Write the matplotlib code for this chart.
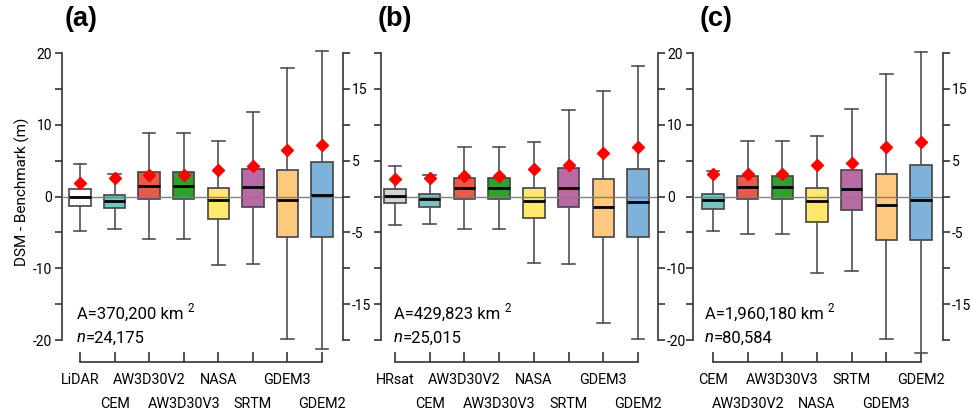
import matplotlib
matplotlib.use('Agg')
import matplotlib.pyplot as plt
from matplotlib import font_manager as fm
from matplotlib.ticker import FixedLocator, FixedFormatter

# ---------------- data ----------------
cats_a = ['LiDAR', 'CEM', 'AW3D30V2', 'AW3D30V3', 'NASA', 'SRTM', 'GDEM3', 'GDEM2']
wlo_a = [-4.74, -4.47, -5.86, -5.86, -9.53, -9.40, -19.86, -21.20]
q1_a = [-1.30, -1.67, -0.37, -0.37, -3.07, -1.49, -5.67, -5.67]
med_a = [0.00, -0.60, 1.53, 1.53, -0.51, 1.30, -0.42, 0.23]
q3_a = [1.02, 0.23, 3.35, 3.35, 1.16, 3.81, 3.72, 4.74]
whi_a = [4.56, 3.16, 8.84, 8.84, 7.67, 11.72, 17.86, 20.28]
mean_a = [1.95, 2.56, 3.00, 3.00, 3.63, 4.19, 6.42, 7.12]

cats_b = ['HRsat', 'CEM', 'AW3D30V2', 'AW3D30V3', 'NASA', 'SRTM', 'GDEM3', 'GDEM2']
wlo_b = [-4.00, -3.90, -4.56, -4.56, -9.26, -9.44, -17.67, -19.86]
q1_b = [-0.93, -1.40, -0.33, -0.33, -2.98, -1.40, -5.58, -5.58]
med_b = [0.10, -0.37, 1.16, 1.16, -0.56, 1.21, -1.49, -0.74]
q3_b = [1.07, 0.33, 2.56, 2.56, 1.16, 3.95, 2.47, 3.86]
whi_b = [4.19, 3.00, 6.88, 6.88, 7.53, 12.05, 14.74, 18.14]
mean_b = [2.37, 2.60, 2.88, 2.88, 3.86, 4.42, 6.05, 6.93]

cats_c = ['CEM', 'AW3D30V2', 'AW3D30V3', 'NASA', 'SRTM', 'GDEM3', 'GDEM2']
wlo_c = [-4.84, -5.16, -5.16, -10.70, -10.33, -19.90, -21.77]
q1_c = [-1.77, -0.37, -0.37, -3.49, -1.91, -6.05, -6.05]
med_c = [-0.47, 1.30, 1.30, -0.65, 1.02, -1.16, -0.47]
q3_c = [0.28, 2.84, 2.84, 1.21, 3.67, 3.16, 4.37]
whi_c = [3.49, 7.67, 7.67, 8.47, 12.14, 17.02, 20.19]
mean_c = [3.12, 3.12, 3.12, 4.37, 4.70, 6.88, 7.63]

area_nums = ['370,200', '429,823', '1,960,180']
n_nums = ['24,175', '25,015', '80,584']
panel_letters = ['(a)', '(b)', '(c)']

colors = {
    'LiDAR': '#ffffff', 'HRsat': '#d4d4d4', 'CEM': '#72c8c0',
    'AW3D30V2': '#e85a4c', 'AW3D30V3': '#30a02c', 'NASA': '#ffe86c',
    'SRTM': '#b86aa5', 'GDEM3': '#fec97f', 'GDEM2': '#7db2db',
}

# ---------------- fonts ----------------
names = {e.name for e in fm.fontManager.ttflist}
FAM = 'Roboto' if 'Roboto' in names else 'DejaVu Sans'
plt.rcParams['font.family'] = [FAM, 'DejaVu Sans']
XLBL = 10.4     # category labels
YLBL = 10.0     # y tick labels
TXT = 12.0      # annotations

# ---------------- layout (pixels) ----------------
W, H = 971, 413
Y0PX, PXU = 196.5, 7.175        # pixel row of value 0, pixels per unit
YLIM = (-23.0, 21.5)

panels = [
    dict(cats=cats_a, wlo=wlo_a, q1=q1_a, med=med_a, q3=q3_a, whi=whi_a, mean=mean_a,
         x0=62, x1=343, p0=80, p1=322,
         left_labels=True, right_set='odd', letter_x=65, text_x=77),
    dict(cats=cats_b, wlo=wlo_b, q1=q1_b, med=med_b, q3=q3_b, whi=whi_b, mean=mean_b,
         x0=381, x1=658, p0=395, p1=638,
         left_labels=False, right_set='even', letter_x=378, text_x=394),
    dict(cats=cats_c, wlo=wlo_c, q1=q1_c, med=med_c, q3=q3_c, whi=whi_c, mean=mean_c,
         x0=693, x1=943, p0=713, p1=921,
         left_labels=False, right_set='odd', letter_x=700, text_x=705),
]

fig = plt.figure(figsize=(W / 100, H / 100), dpi=100)
renderer = fig.canvas.get_renderer()

ytop_px = Y0PX - YLIM[1] * PXU
ybot_px = Y0PX - YLIM[0] * PXU
ticks5 = list(range(-20, 21, 5))
AXC = '#333333'

for P, letter, anum, nnum in zip(panels, panel_letters, area_nums, n_nums):
    n = len(P['cats'])
    s = (P['p1'] - P['p0']) / (n - 1)
    rect = [P['x0'] / W, 1 - ybot_px / H, (P['x1'] - P['x0']) / W, (ybot_px - ytop_px) / H]
    ax = fig.add_axes(rect)
    ax.patch.set_alpha(0)
    ax.set_xlim(-(P['p0'] - P['x0']) / s, (n - 1) + (P['x1'] - P['p1']) / s)
    ax.set_ylim(*YLIM)

    stats = []
    for i in range(n):
        stats.append(dict(whislo=P['wlo'][i], q1=P['q1'][i], med=P['med'][i],
                          q3=P['q3'][i], whishi=P['whi'][i], mean=P['mean'][i],
                          fliers=[], label=P['cats'][i]))
    bp = ax.bxp(stats, positions=list(range(n)), widths=0.62, capwidths=0.36,
                patch_artist=True, showmeans=True, showfliers=False,
                boxprops=dict(edgecolor='#444444', linewidth=1.2),
                whiskerprops=dict(color='#505050', linewidth=1.2),
                capprops=dict(color='#505050', linewidth=1.2),
                medianprops=dict(color='black', linewidth=2.0, zorder=6),
                meanprops=dict(marker='D', markerfacecolor='#ff0000',
                               markeredgecolor='#ff0000', markersize=6.2, zorder=7),
                zorder=2)
    for patch, c in zip(bp['boxes'], P['cats']):
        patch.set_facecolor(colors[c])
    ax.axhline(0, color='#808080', linewidth=1.0, zorder=5)

    # spines
    ax.spines['top'].set_visible(False)
    ax.spines['right'].set_visible(False)
    for sp in ['left', 'bottom']:
        ax.spines[sp].set_color(AXC)
        ax.spines[sp].set_linewidth(1.2)
    ax.spines['left'].set_bounds(-20, 20)
    ax.spines['bottom'].set_bounds(0, n - 1)

    # left ticks
    ax.yaxis.set_major_locator(FixedLocator(ticks5))
    if P['left_labels']:
        ax.yaxis.set_major_formatter(FixedFormatter([str(t) if t % 10 == 0 else '' for t in ticks5]))
    else:
        ax.yaxis.set_major_formatter(FixedFormatter([''] * len(ticks5)))
    ax.tick_params(axis='y', direction='out', length=5, width=1.2, color=AXC,
                   labelsize=YLBL, pad=2)

    # bottom category ticks: staggered labels (even = upper row, odd = lower row)
    ev = list(range(0, n, 2))
    od = list(range(1, n, 2))
    ax.set_xticks(ev, [P['cats'][i] for i in ev])
    ax.set_xticks(od, [P['cats'][i] for i in od], minor=True)
    ax.tick_params(axis='x', which='both', direction='in', length=7, width=1.2,
                   color=AXC, labelsize=XLBL)
    ax.tick_params(axis='x', which='major', pad=8)
    ax.tick_params(axis='x', which='minor', pad=25.5)

    # right axis
    ax2 = ax.twinx()
    ax2.set_ylim(*YLIM)
    for sp in ['top', 'bottom', 'left']:
        ax2.spines[sp].set_visible(False)
    ax2.spines['right'].set_bounds(-20, 20)
    ax2.spines['right'].set_color(AXC)
    ax2.spines['right'].set_linewidth(1.2)
    ax2.yaxis.set_major_locator(FixedLocator(ticks5))
    if P['right_set'] == 'odd':
        rl = [str(t) if t % 10 != 0 else '' for t in ticks5]
    else:
        rl = [str(t) if t % 10 == 0 else '' for t in ticks5]
    ax2.yaxis.set_major_formatter(FixedFormatter(rl))
    ax2.tick_params(axis='y', direction='out', length=5, width=1.2, color=AXC,
                    labelsize=YLBL, pad=1.5)

    # annotations (figure pixel positions)
    tx = P['text_x'] / W
    a1 = fig.text(tx, 1 - 314 / H, 'A=' + anum + ' km', fontsize=TXT, va='center', ha='left')
    bb = a1.get_window_extent(renderer=renderer)
    fig.text((bb.x1 + 4) / W, 1 - 308 / H, '2', fontsize=TXT * 0.7, va='center', ha='left')
    t_n = fig.text(tx, 1 - 338 / H, 'n', fontsize=TXT, style='italic', va='center', ha='left')
    bb2 = t_n.get_window_extent(renderer=renderer)
    fig.text(bb2.x1 / W, 1 - 338 / H, '=' + nnum, fontsize=TXT, va='center', ha='left')

    fig.text(P['letter_x'] / W, 1 - 19 / H, letter, fontsize=19.5, fontweight='bold',
             family=['Liberation Sans', 'DejaVu Sans'], va='center', ha='left')

fig.text(22 / W, 1 - 192 / H, 'DSM - Benchmark (m)', rotation=90, fontsize=11,
         va='center', ha='center')

fig.savefig('out.png', dpi=100)
